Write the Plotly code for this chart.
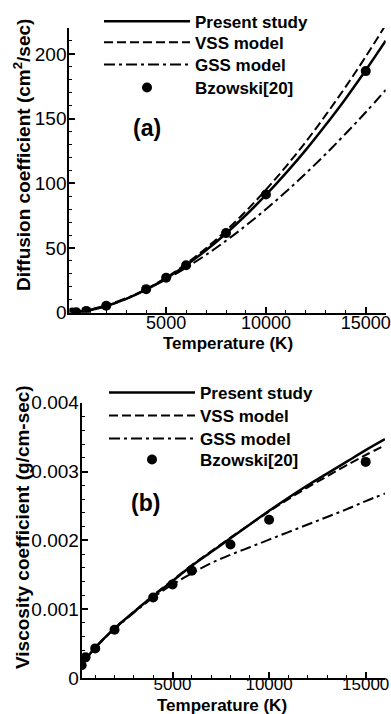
import plotly.graph_objects as go

# ---------------- data ----------------
T_curve = [300, 500, 1000, 2000, 3000, 4000, 5000, 6000, 7000, 8000,
           9000, 10000, 11000, 12000, 13000, 14000, 15000, 16000]

diff_present = [0.18, 0.44, 1.5, 5.2, 10.7, 17.8, 26.5, 36.7, 48.2, 61.2,
                75.5, 91.0, 107.8, 125.8, 145.2, 165.6, 187.3, 210.1]
diff_vss = [0.17, 0.42, 1.47, 5.2, 10.7, 18.1, 27.1, 37.7, 49.8, 63.4,
            78.5, 95.0, 112.9, 132.1, 152.8, 174.7, 197.9, 222.4]
diff_gss = [0.26, 0.61, 1.9, 5.8, 11.2, 18.0, 25.8, 34.8, 44.7, 55.6,
            67.4, 80.0, 93.4, 107.7, 122.7, 138.5, 154.9, 172.1]

T_bz = [300, 500, 1000, 2000, 4000, 5000, 6000, 8000, 10000, 15000]
diff_bz = [0.1, 0.4, 1.4, 5.4, 18.2, 27.0, 36.7, 61.5, 91.3, 186.7]

visc_present = [0.00019, 0.00027, 0.00044, 0.00072, 0.00096, 0.00119, 0.00141,
                0.00163, 0.00183, 0.00203, 0.00223, 0.00243, 0.00262, 0.00280,
                0.00297, 0.00314, 0.00331, 0.00347]
visc_vss = [0.00019, 0.00027, 0.00044, 0.00072, 0.00096, 0.00120, 0.00142,
            0.00164, 0.00184, 0.00204, 0.00223, 0.00242, 0.00260, 0.00277,
            0.00293, 0.00309, 0.00324, 0.00338]
visc_gss = [0.00019, 0.00027, 0.00044, 0.00071, 0.00095, 0.00117, 0.00136,
            0.00152, 0.00167, 0.00179, 0.00190, 0.00201, 0.00212, 0.00223,
            0.00234, 0.00245, 0.00257, 0.00268]
visc_bz = [0.000185, 0.00030, 0.00043, 0.00070, 0.00117, 0.00136, 0.00156,
           0.00194, 0.00230, 0.00314]

x_ticks = [5000, 10000, 15000]
x_ticktext = ["5000", "10000", "15000"]
diff_ticks = [0, 50, 100, 150, 200]
diff_ticktext = ["0", "50", "100", "150", "200"]
visc_ticks = [0, 0.001, 0.002, 0.003, 0.004]
visc_ticktext = ["0", "0.001", "0.002", "0.003", "0.004"]

names = ["Present study", "VSS model", "GSS model", "Bzowski[20]"]

# ---------------- figure ----------------
W, H = 391, 714
FONT = "Liberation Sans, Arial, sans-serif"

fig = go.Figure()

def add_panel(xa, ya, legs, ys, bz):
    present, vss, gss = ys
    fig.add_trace(go.Scatter(x=T_curve, y=present, mode="lines", name=names[0],
                             line=dict(color="black", width=2.5, shape="spline"),
                             xaxis=xa, yaxis=ya, legend=legs[0]))
    fig.add_trace(go.Scatter(x=T_curve, y=vss, mode="lines", name=names[1],
                             line=dict(color="black", width=2, dash="9px,4px", shape="spline"),
                             xaxis=xa, yaxis=ya, legend=legs[1]))
    fig.add_trace(go.Scatter(x=T_curve, y=gss, mode="lines", name=names[2],
                             line=dict(color="black", width=2, dash="11px,4px,3px,4px", shape="spline"),
                             xaxis=xa, yaxis=ya, legend=legs[2]))
    fig.add_trace(go.Scatter(x=T_bz, y=bz, mode="markers", name=names[3],
                             marker=dict(color="black", size=10),
                             xaxis=xa, yaxis=ya, legend=legs[3]))

add_panel("x", "y", ["legend", "legend2", "legend3", "legend4"],
          (diff_present, diff_vss, diff_gss), diff_bz)
add_panel("x2", "y2", ["legend5", "legend6", "legend7", "legend8"],
          (visc_present, visc_vss, visc_gss), visc_bz)

def px_x(p):
    return p / W

def px_y(p):
    return 1 - p / H

xtickfont = dict(family=FONT, size=18, color="black")
xtickfont2 = dict(family=FONT, size=17, color="black")
ytickfont = dict(family=FONT, size=19, color="black")
common_axis = dict(showline=True, linecolor="black", linewidth=2, ticks="inside",
                   ticklen=6, tickwidth=1.5, tickcolor="black", showgrid=False,
                   zeroline=False, automargin=False, mirror=False)
minor_x = dict(dtick=1000, tick0=0, ticks="inside", ticklen=3, tickcolor="black", tickwidth=1.2)

fig.update_layout(
    width=W, height=H,
    margin=dict(l=0, r=0, t=0, b=0),
    paper_bgcolor="white", plot_bgcolor="white",
    font=dict(family=FONT, color="black"),
    showlegend=True,
    xaxis=dict(domain=[px_x(69.3), px_x(385.7)], range=[150, 16000], anchor="y",
               tickvals=x_ticks, ticktext=x_ticktext, tickfont=xtickfont,
               ticklabelstandoff=-7, minor=minor_x, **common_axis),
    yaxis=dict(domain=[px_y(312.7), px_y(28)], range=[0, 220], anchor="x",
               tickvals=diff_ticks, ticktext=diff_ticktext, tickfont=ytickfont,
               ticklabelstandoff=-3,
               minor=dict(dtick=10, tick0=0, ticks="inside", ticklen=3,
                          tickcolor="black", tickwidth=1.2),
               **common_axis),
    xaxis2=dict(domain=[px_x(81.7), px_x(385)], range=[300, 16000], anchor="y2",
                tickvals=x_ticks, ticktext=x_ticktext, tickfont=xtickfont2,
                ticklabelstandoff=-10, minor=minor_x, **common_axis),
    yaxis2=dict(domain=[px_y(678), px_y(402.7)], range=[0, 0.004], anchor="x2",
                tickvals=visc_ticks, ticktext=visc_ticktext, tickfont=ytickfont,
                ticklabelstandoff=-3,
                minor=dict(dtick=0.0002, tick0=0, ticks="inside", ticklen=3,
                           tickcolor="black", tickwidth=1.2),
                **common_axis),
)

# one legend box per entry so the rows sit exactly where the reference has them
leg_font = dict(family=FONT, size=17, color="black", weight="bold")
row_centres_top = [21.7, 42.7, 65, 88]
row_centres_bot = [393, 416, 439, 460]
leg_keys = ["legend", "legend2", "legend3", "legend4",
            "legend5", "legend6", "legend7", "legend8"]
leg_x = [99] * 4 + [104] * 4
leg_rows = row_centres_top + row_centres_bot
legend_layout = {}
for key, lx, cy in zip(leg_keys, leg_x, leg_rows):
    legend_layout[key] = dict(x=px_x(lx), xanchor="left", y=px_y(cy - 18), yanchor="top",
                              font=leg_font, itemwidth=86, bgcolor="rgba(0,0,0,0)",
                              borderwidth=0)
fig.update_layout(**legend_layout)

ann_font = dict(family=FONT, size=17, color="black", weight="bold")
annotations = [
    dict(text="(a)", x=px_x(146.5), y=px_y(128), font=dict(family=FONT, size=23, color="black", weight="bold")),
    dict(text="(b)", x=px_x(145.5), y=px_y(503), font=dict(family=FONT, size=23, color="black", weight="bold")),
    dict(text="Diffusion coefficient (cm<sup>2</sup>/sec)", x=px_x(22), y=px_y(155),
         textangle=-90, font=dict(family=FONT, size=19, color="black", weight="bold")),
    dict(text="Viscosity coefficient (g/cm-sec)", x=px_x(22), y=px_y(527),
         textangle=-90, font=dict(family=FONT, size=19, color="black", weight="bold")),
    dict(text="Temperature (K)", x=px_x(228), y=px_y(343), font=ann_font),
    dict(text="Temperature (K)", x=px_x(222), y=px_y(705), font=ann_font),
]
for a in annotations:
    a.update(xref="paper", yref="paper", showarrow=False, xanchor="center", yanchor="middle")
fig.update_layout(annotations=annotations)

fig.write_html(
    "out.html",
    config={"displayModeBar": False},
    post_script="document.body.style.margin='0';document.body.style.padding='0';"
                "document.body.style.overflow='hidden';",
)
